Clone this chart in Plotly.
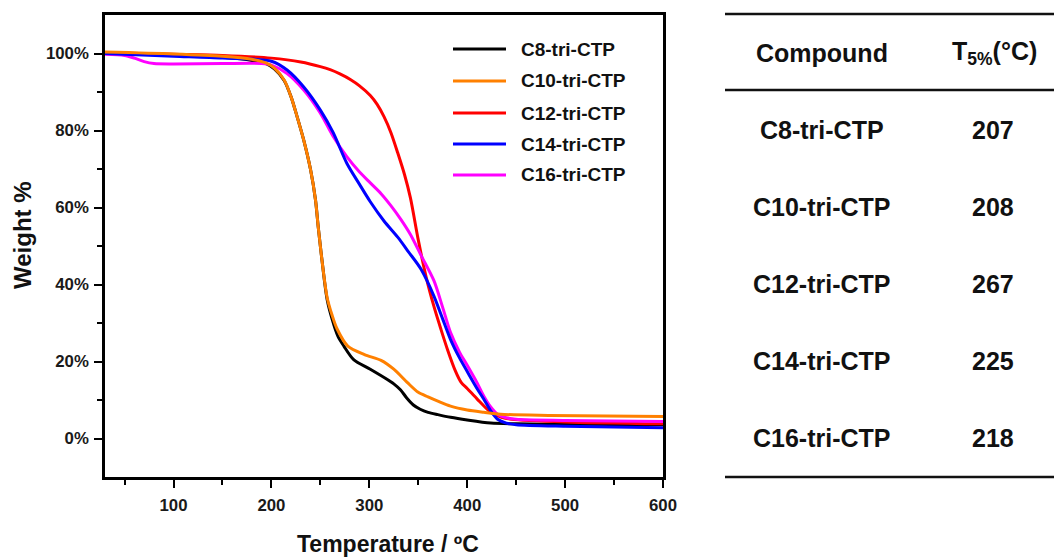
import plotly.graph_objects as go

# TGA curves: temperature (°C) and remaining weight (%)
series_names = ["C8-tri-CTP", "C10-tri-CTP", "C12-tri-CTP", "C14-tri-CTP", "C16-tri-CTP"]
series_colors = ["#000000", "#FF8000", "#FF0000", "#0000FF", "#FF00FF"]

c8_temp = [30, 100, 150, 180, 195, 203, 213, 220, 226, 233, 240, 245, 248, 254, 257, 262,
           268, 274, 284, 301, 318, 325, 332, 338, 345, 352, 360, 370, 383, 400, 424, 450, 500, 600]
c8_wt = [100.2, 99.6, 99.0, 98.2, 97.3, 96.0, 93.0, 88.8, 83.8, 77.5, 69.8, 62.0, 54.5, 41.3, 36.0, 31.0,
         26.5, 24.0, 20.5, 18.0, 15.4, 14.2, 12.6, 10.6, 8.7, 7.6, 6.8, 6.2, 5.5, 4.8, 4.0, 3.8, 3.7, 3.6]

c10_temp = [30, 100, 150, 180, 195, 203, 213, 220, 226, 233, 240, 245, 248, 254, 257, 262,
            267, 278, 295, 312, 325, 339, 350, 360, 370, 383, 400, 417, 434, 485, 600]
c10_wt = [100.4, 99.9, 99.3, 98.5, 97.5, 96.2, 93.1, 88.8, 83.8, 77.5, 69.8, 62.0, 54.5, 41.5, 36.5, 32.0,
          28.5, 24.0, 21.8, 20.3, 18.0, 14.5, 12.0, 10.8, 9.7, 8.4, 7.4, 6.8, 6.3, 6.0, 5.7]

c12_temp = [30, 100, 150, 200, 230, 250, 260, 270, 281, 290, 301, 308, 315, 322, 329, 336, 342,
            350, 358, 366, 373, 380, 388, 394, 400, 410, 424, 435, 445, 500, 600]
c12_wt = [100.2, 99.8, 99.5, 98.8, 97.8, 96.6, 95.8, 94.7, 93.2, 91.6, 89.1, 86.8, 83.6, 79.5, 74.2, 68.5, 62.5,
          51.6, 42.0, 34.3, 28.5, 23.0, 17.5, 14.5, 13.0, 10.3, 6.8, 5.5, 5.0, 4.3, 3.8]

c14_temp = [30, 100, 150, 200, 216, 233, 250, 263, 277, 290, 301, 315, 329, 340, 353, 366,
            375, 383, 392, 400, 410, 417, 424, 431, 440, 450, 500, 600]
c14_wt = [100.0, 99.3, 98.8, 98.0, 95.7, 91.3, 85.3, 79.5, 71.5, 66.0, 61.5, 56.5, 52.3, 48.5, 43.9, 37.0,
          31.0, 25.7, 21.0, 17.4, 13.0, 10.2, 7.2, 5.0, 4.0, 3.6, 3.2, 2.8]

c16_temp = [30, 50, 60, 70, 80, 100, 150, 190, 200, 216, 233, 250, 263, 277, 290, 301, 312, 322,
            332, 342, 353, 366, 375, 383, 392, 400, 410, 417, 424, 431, 440, 450, 500, 600]
c16_wt = [99.8, 99.5, 98.8, 97.9, 97.4, 97.3, 97.4, 97.4, 97.0, 94.8, 90.5, 84.5, 78.5, 73.2, 69.2, 66.4, 63.6, 60.5,
          57.0, 53.0, 47.5, 41.0, 34.0, 27.5, 22.5, 19.0, 14.5, 11.0, 8.2, 6.3, 5.4, 5.0, 4.7, 4.4]

temps = [c8_temp, c10_temp, c12_temp, c14_temp, c16_temp]
weights = [c8_wt, c10_wt, c12_wt, c14_wt, c16_wt]

# T5% table
table_header = ["Compound", "T<sub>5%</sub>(°C)"]
t5_values = [207, 208, 267, 225, 218]

x_ticks = [100, 200, 300, 400, 500, 600]
y_ticks = [0, 20, 40, 60, 80, 100]

W, H = 1054, 559
FONT = "Liberation Sans, Arial, sans-serif"
INK = "#111111"


def px(x):
    return x / W


def py(y):
    return 1 - y / H


fig = go.Figure()

draw_order = [0, 2, 4, 3, 1]
for i in draw_order:
    fig.add_trace(go.Scatter(
        x=temps[i], y=weights[i], mode="lines", name=series_names[i],
        line=dict(color=series_colors[i], width=3, shape="spline", smoothing=0.8),
        showlegend=False,
    ))

axis_common = dict(
    showline=True, linecolor="black", linewidth=2.5, mirror=True,
    ticks="outside", ticklen=8, tickwidth=2, tickcolor="black",
    showgrid=False, zeroline=False, automargin=False,
    tickfont=dict(family=FONT, size=16.8, color="#1a1a1a", weight="bold"),
)

fig.update_layout(
    width=W, height=H, autosize=False,
    margin=dict(l=0, r=0, t=0, b=0, pad=0, autoexpand=False),
    paper_bgcolor="white", plot_bgcolor="white",
    xaxis=dict(domain=[px(105), px(663)], range=[30, 600], tickvals=x_ticks,
               minor=dict(ticks="outside", ticklen=5, tickwidth=2, tickcolor="black",
                          tickvals=[50, 150, 250, 350, 450, 550]),
               ticklabelstandoff=3, **axis_common),
    yaxis=dict(domain=[py(477), py(15)], range=[-10, 110], tickvals=y_ticks,
               ticktext=[f"{v}%" for v in y_ticks],
               minor=dict(ticks="outside", ticklen=5, tickwidth=2, tickcolor="black",
                          tickvals=[10, 30, 50, 70, 90]),
               ticklabelstandoff=2, **axis_common),
    showlegend=False,
)

annotations = []
shapes = []

# Axis titles
annotations.append(dict(text="Temperature / ºC", x=px(388), y=py(544), xref="paper", yref="paper",
                        showarrow=False, xanchor="center", yanchor="middle",
                        font=dict(family=FONT, size=23, color=INK, weight="bold")))
annotations.append(dict(text="Weight %", x=px(22), y=py(235), xref="paper", yref="paper",
                        showarrow=False, xanchor="center", yanchor="middle", textangle=-90,
                        font=dict(family=FONT, size=24, color=INK, weight="bold")))

# Legend inside the plot
legend_rows = [49, 81, 113, 144, 175]
for name, color, yrow in zip(series_names, series_colors, legend_rows):
    shapes.append(dict(type="line", xref="paper", yref="paper",
                       x0=px(453), x1=px(506), y0=py(yrow), y1=py(yrow),
                       line=dict(color=color, width=3)))
    annotations.append(dict(text=name, x=px(519), y=py(yrow), xref="paper", yref="paper",
                            showarrow=False, xanchor="left", yanchor="middle",
                            font=dict(family=FONT, size=19, color=INK, weight="bold")))

# T5% table on the right
for yline in [14, 90, 477]:
    shapes.append(dict(type="line", xref="paper", yref="paper",
                       x0=px(725), x1=1.0, y0=py(yline), y1=py(yline),
                       line=dict(color=INK, width=2.5)))

col_x = [822, 994]
for text, cx in zip(table_header, col_x):
    annotations.append(dict(text=text, x=px(cx), y=py(53), xref="paper", yref="paper",
                            showarrow=False, xanchor="center", yanchor="middle",
                            font=dict(family=FONT, size=25, color=INK, weight="bold")))

row_y = [130, 207, 284, 361, 438]
for name, val, ry in zip(series_names, t5_values, row_y):
    annotations.append(dict(text=name, x=px(col_x[0]), y=py(ry), xref="paper", yref="paper",
                            showarrow=False, xanchor="center", yanchor="middle",
                            font=dict(family=FONT, size=25, color=INK, weight="bold")))
    annotations.append(dict(text=str(val), x=px(col_x[1] - 1), y=py(ry), xref="paper", yref="paper",
                            showarrow=False, xanchor="center", yanchor="middle",
                            font=dict(family=FONT, size=25, color=INK, weight="bold")))

fig.update_layout(annotations=annotations, shapes=shapes)

fig.write_html("out.html", config={"responsive": False})
